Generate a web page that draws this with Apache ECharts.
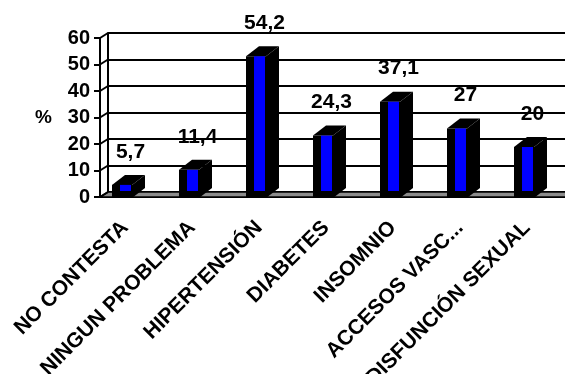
<!DOCTYPE html>
<html>
<head>
<meta charset="utf-8">
<script src="https://cdn.jsdelivr.net/npm/echarts@6/dist/echarts.min.js"></script>
<style>
  html, body { margin: 0; padding: 0; background: #fff; }
  #chart { width: 565px; height: 374px; }
</style>
</head>
<body>
<div id="chart"></div>
<script>
// Categories and percentages
const categories = [
  'NO CONTESTA',
  'NINGUN PROBLEMA',
  'HIPERTENSIÓN',
  'DIABETES',
  'INSOMNIO',
  'ACCESOS VASC...',
  'DISFUNCIÓN SEXUAL'
];
const percentages = [5.7, 11.4, 54.2, 24.3, 37.1, 27, 20];
const yTicks = [0, 10, 20, 30, 40, 50, 60];
const yAxisName = '%';

const FONT = '"Liberation Sans", Arial, sans-serif';
const WALL_DX = 8, WALL_DY = -5;     // depth of the back wall
const BAR_DX = 13, BAR_DY = -10;     // depth of each 3D column
const BAR_OFFSET = -21.5, BAR_W = 20; // column front face, relative to band centre

const yMin = yTicks[0];
const yMax = yTicks[yTicks.length - 1];
const yStep = yTicks[1] - yTicks[0];

function fmt(v) { return String(v).replace('.', ','); }

const chart = echarts.init(document.getElementById('chart'), null, { renderer: 'canvas' });

// Side wall diagonals and the floor, drawn in the front plane
function renderFrame(params, api) {
  const v = api.value(1);
  const bw = api.size([1, 0])[0];
  const p = api.coord([0, v]);
  const x0 = p[0] - bw / 2;
  const y0 = p[1];
  const children = [{
    type: 'line',
    shape: { x1: x0, y1: y0, x2: x0 + WALL_DX, y2: y0 + WALL_DY },
    style: { stroke: '#000', lineWidth: 2 }
  }];
  if (v === yMin) {
    const xEnd = api.coord([categories.length - 1, v])[0] + bw / 2 + WALL_DX;
    children.unshift({
      type: 'polygon',
      shape: { points: [[x0, y0], [x0 + WALL_DX, y0 + WALL_DY], [xEnd + WALL_DX, y0 + WALL_DY], [xEnd, y0]] },
      style: { fill: '#8c8c8c', stroke: '#000', lineWidth: 1.5 }
    });
  }
  return { type: 'group', children: children };
}

// 3D columns with value labels
function renderBar(params, api) {
  const i = api.value(0);
  const v = api.value(1);
  const c = api.coord([i, v]);
  const base = api.coord([i, 0]);
  const L = c[0] + BAR_OFFSET;
  const R = L + BAR_W;
  const top = c[1] + 3;
  const bottom = base[1] + 1;
  return {
    type: 'group',
    children: [
      { type: 'polygon', shape: { points: [[R, top], [R + BAR_DX, top + BAR_DY], [R + BAR_DX, bottom + BAR_DY], [R, bottom]] }, style: { fill: '#000' } },
      { type: 'polygon', shape: { points: [[L, top], [L + BAR_DX, top + BAR_DY], [R + BAR_DX, top + BAR_DY], [R, top]] }, style: { fill: '#000' } },
      { type: 'rect', shape: { x: L, y: top, width: R - L, height: bottom - top }, style: { fill: '#000' } },
      { type: 'rect', shape: { x: L + 8, y: top, width: R - 1 - (L + 8), height: Math.max(0, bottom - 7 - top) }, style: { fill: '#0000ff' } },
      {
        type: 'text',
        style: {
          x: L + (R + BAR_DX - L) / 2 + 2,
          y: top + BAR_DY - 23,
          text: fmt(v),
          fill: '#000',
          font: 'bold 21px ' + FONT,
          align: 'center',
          verticalAlign: 'middle'
        }
      }
    ]
  };
}

const option = {
  animation: false,
  backgroundColor: '#fff',
  grid: [
    { left: 108, top: 33, width: 469, height: 159, outerBoundsMode: 'none', containLabel: false }, // back wall
    { left: 100, top: 38, width: 469, height: 159, outerBoundsMode: 'none', containLabel: false }  // front plane
  ],
  xAxis: [
    { gridIndex: 0, type: 'category', data: categories, show: false },
    {
      gridIndex: 1, type: 'category', data: categories,
      axisLine: { lineStyle: { color: '#000', width: 2 } },
      axisTick: { length: 5, lineStyle: { color: '#000', width: 2 } },
      axisLabel: {
        interval: 0, rotate: 45, margin: 19, padding: [0, 12, 0, 0], color: '#000',
        fontFamily: FONT, fontWeight: 'bold', fontSize: 21
      }
    }
  ],
  yAxis: [
    {
      gridIndex: 0, type: 'value', min: yMin, max: yMax, interval: yStep,
      axisLine: { show: true, lineStyle: { color: '#000', width: 2 } },
      axisTick: { show: false }, axisLabel: { show: false },
      splitLine: { lineStyle: { color: '#000', width: 2 } }
    },
    {
      gridIndex: 1, type: 'value', min: yMin, max: yMax, interval: yStep,
      name: yAxisName, nameLocation: 'middle', nameRotate: 0, nameGap: 48,
      nameTextStyle: { color: '#000', fontFamily: FONT, fontWeight: 'bold', fontSize: 19 },
      axisLine: { show: true, lineStyle: { color: '#000', width: 2 } },
      axisTick: { show: true, length: 6, lineStyle: { color: '#000', width: 2 } },
      axisLabel: { margin: 10, color: '#000', fontFamily: FONT, fontWeight: 'bold', fontSize: 20 },
      splitLine: { show: false }
    }
  ],
  series: [
    {
      type: 'custom', name: 'frame', xAxisIndex: 1, yAxisIndex: 1,
      renderItem: renderFrame, silent: true, z: 1,
      data: yTicks.map(function (t) { return [0, t]; })
    },
    {
      type: 'custom', name: '%', xAxisIndex: 1, yAxisIndex: 1,
      renderItem: renderBar, z: 5,
      data: percentages.map(function (v, i) { return [i, v]; })
    }
  ]
};

chart.setOption(option);
</script>
</body>
</html>
